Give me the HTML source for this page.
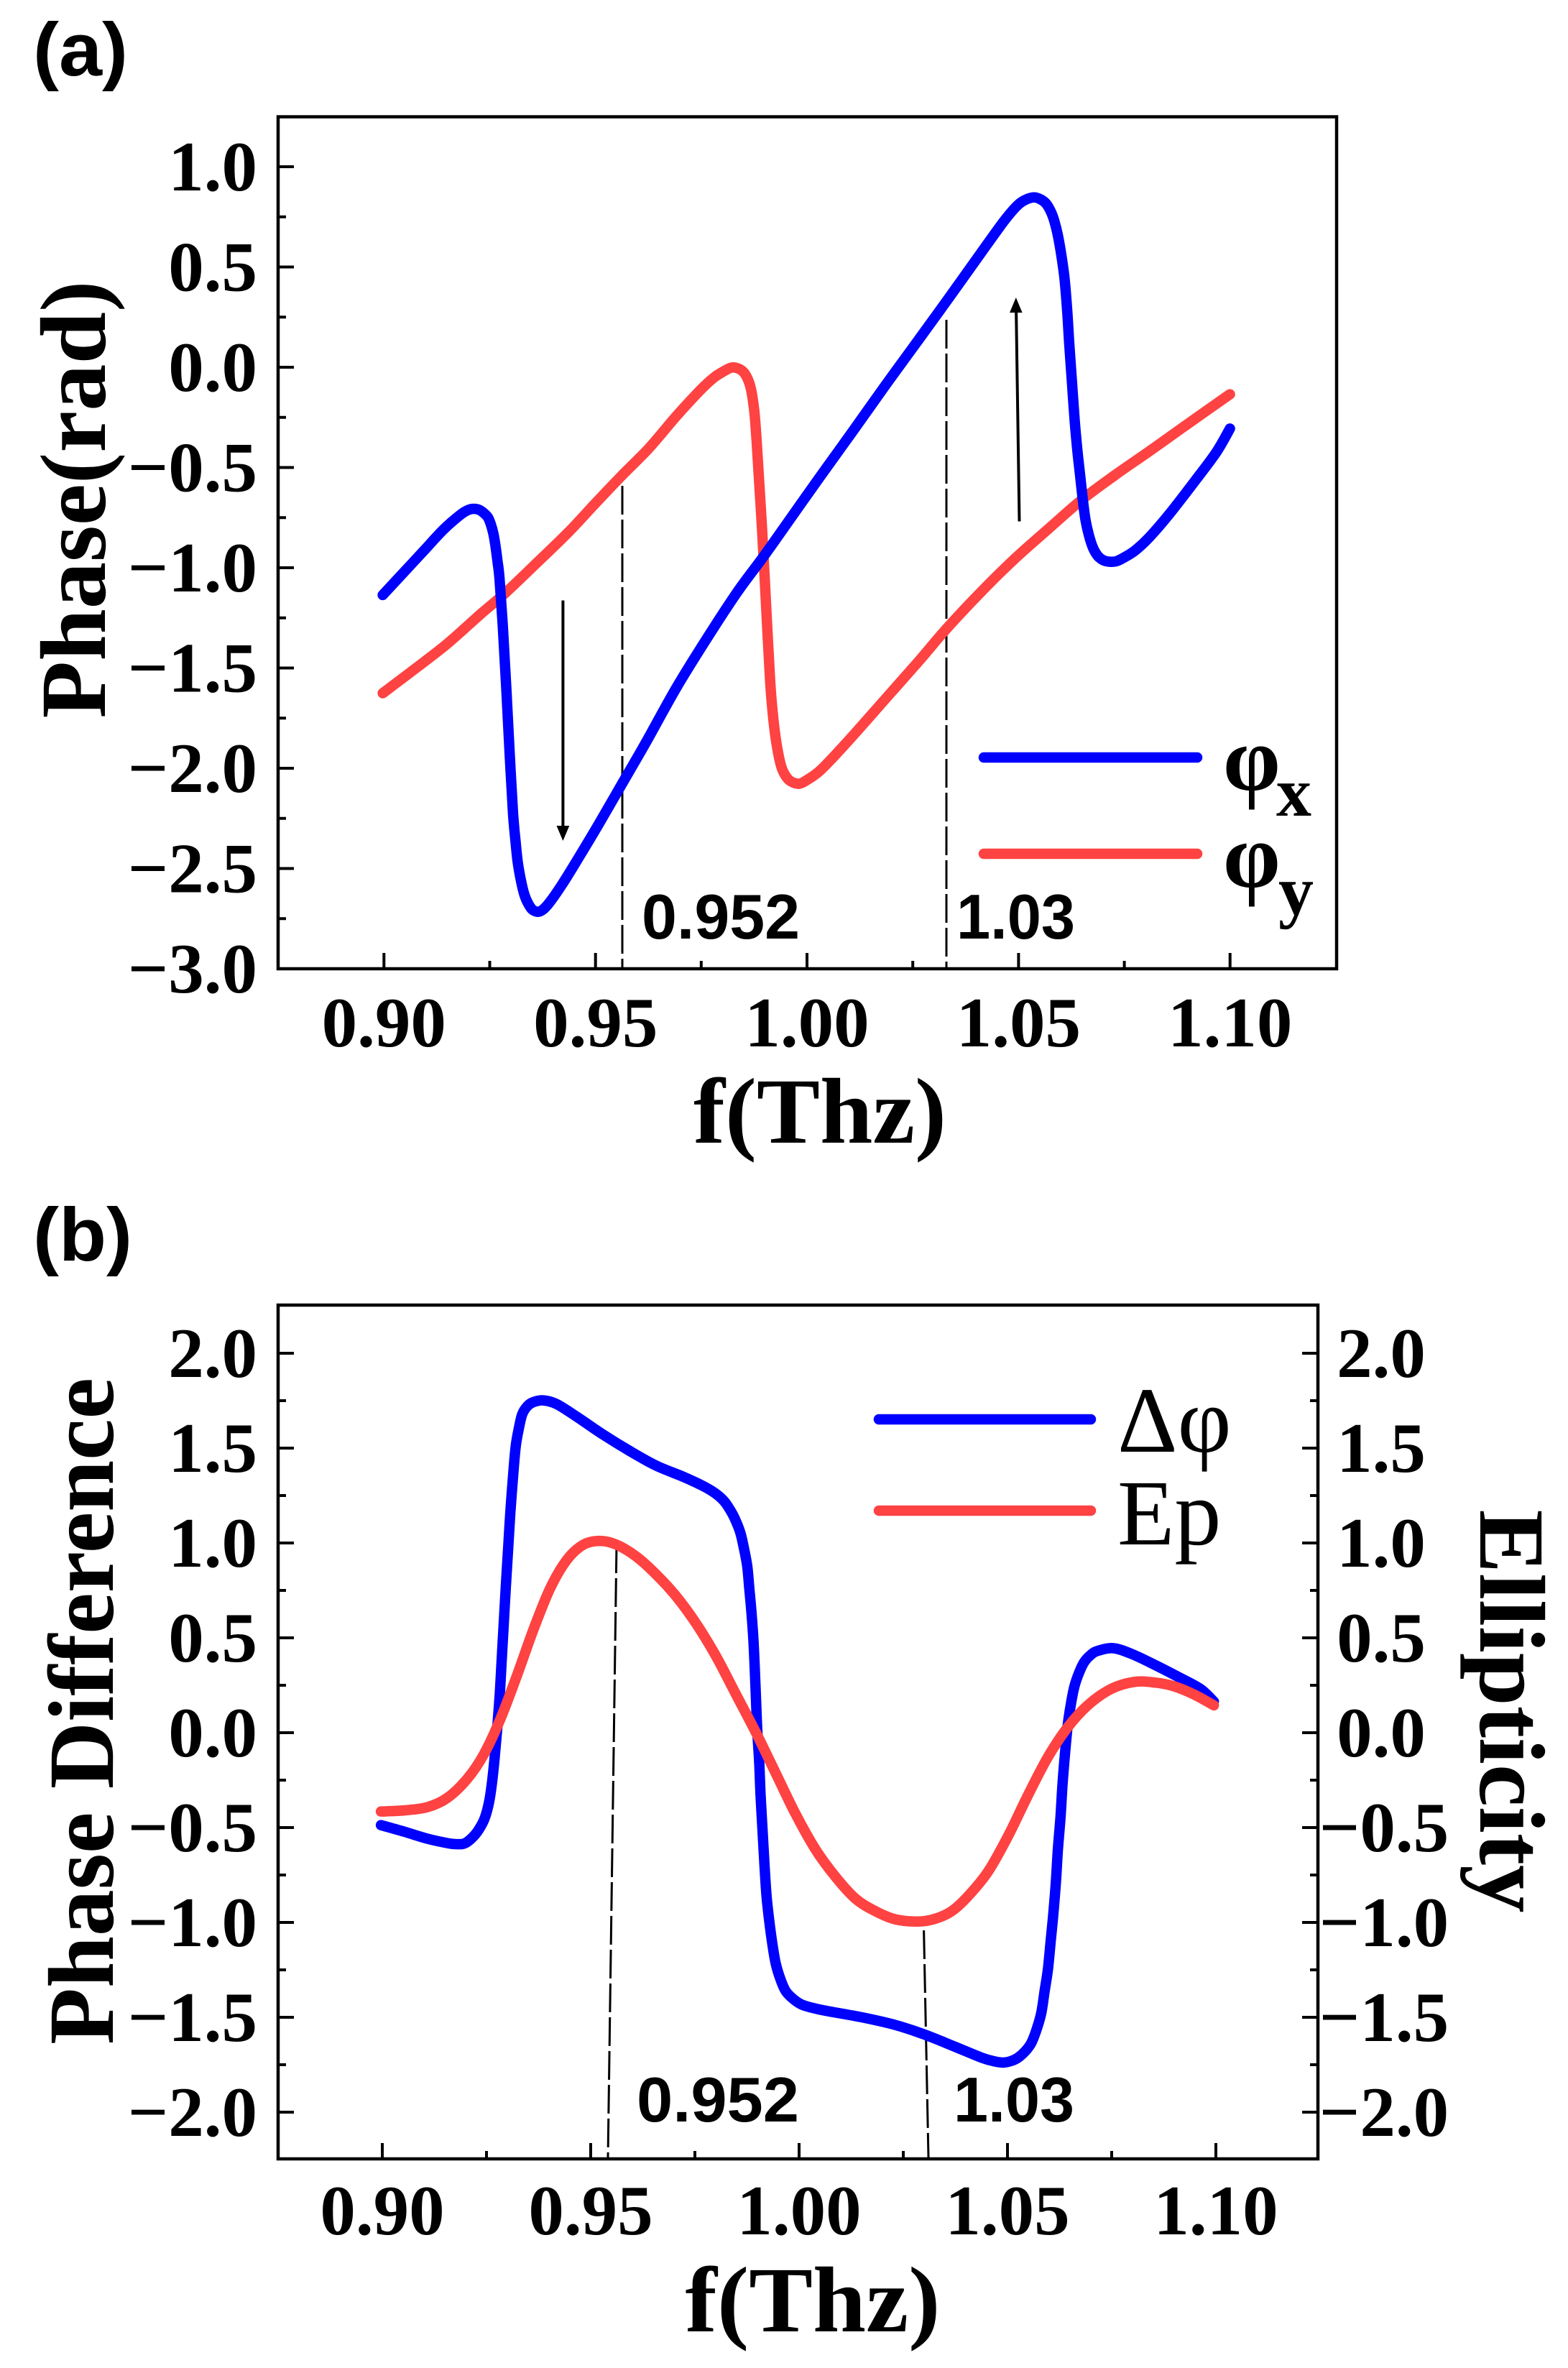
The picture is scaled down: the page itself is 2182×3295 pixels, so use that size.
<!DOCTYPE html>
<html>
<head>
<meta charset="utf-8">
<style>
html,body{margin:0;padding:0;background:#fff;}
svg{display:block;}
.tk{font-family:"Liberation Serif",serif;font-weight:bold;font-size:99px;fill:#000;}
.ttl{font-family:"Liberation Serif",serif;font-weight:bold;font-size:130px;fill:#000;}
.ann{font-family:"Liberation Sans",sans-serif;font-weight:bold;font-size:88px;fill:#000;}
.pl{font-family:"Liberation Sans",sans-serif;font-weight:bold;font-size:105px;fill:#000;}
.crv{fill:none;stroke-width:14.5;stroke-linejoin:round;stroke-linecap:round;}
.tks{fill:none;stroke:#000;stroke-width:4;}
.dsh{fill:none;stroke:#000;stroke-width:3;stroke-dasharray:40 7;}
</style>
</head>
<body>
<svg width="2182" height="3295" viewBox="0 0 2182 3295" xmlns="http://www.w3.org/2000/svg">
<rect x="0" y="0" width="2182" height="3295" fill="#fff"/>

<text class="pl" x="46" y="105" textLength="132" lengthAdjust="spacingAndGlyphs">(a)</text>
<rect x="387" y="162.5" width="1473" height="1185.5" fill="none" stroke="#000" stroke-width="4.5"/>
<path class="tks" d="M534.3 1348V1326M828.7 1348V1326M1123 1348V1326M1417.4 1348V1326M1711.7 1348V1326M681.5 1348V1337M975.8 1348V1337M1270.2 1348V1337M1564.6 1348V1337M387 232h22M387 371.5h22M387 511h22M387 650.5h22M387 790h22M387 929.5h22M387 1069h22M387 1208.5h22M387 301.75h11M387 441.25h11M387 580.75h11M387 720.25h11M387 859.75h11M387 999.25h11M387 1138.75h11M387 1278.25h11"/>

<g class="tk" text-anchor="end">
<text x="358" y="265">1.0</text>
<text x="358" y="404.5">0.5</text>
<text x="358" y="544">0.0</text>
<text x="358" y="683.5">−0.5</text>
<text x="358" y="823">−1.0</text>
<text x="358" y="962.5">−1.5</text>
<text x="358" y="1102">−2.0</text>
<text x="358" y="1241.5">−2.5</text>
<text x="358" y="1381">−3.0</text>
</g>
<g class="tk" text-anchor="middle">
<text x="534.3" y="1456">0.90</text>
<text x="828.7" y="1456">0.95</text>
<text x="1123" y="1456">1.00</text>
<text x="1417.4" y="1456">1.05</text>
<text x="1711.7" y="1456">1.10</text>
</g>

<text class="ttl" x="1141" y="1590" text-anchor="middle" textLength="352" lengthAdjust="spacingAndGlyphs">f(Thz)</text>
<text class="ttl" transform="translate(146,695) rotate(-90)" text-anchor="middle" textLength="609" lengthAdjust="spacingAndGlyphs">Phase(rad)</text>

<path class="dsh" d="M866 676V1346M1317 445V1346"/>

<g transform="matrix(0.9394 0 0 0.759 387 160)">
<path class="crv" vector-effect="non-scaling-stroke" stroke="#ff4242" d="M155,1060 L200,1018 250,970 300,915 335,878 380,825 430,765 470,712 510,660 550,610 590,552 625,505 645,482 660,470 672,463 682,465 690,472 696,485 700,500 703,520 706,550 709,600 712,660 716,740 720,830 725,950 729,1040 733,1100 738,1150 745,1193 752,1212 760,1222 772,1226 785,1218 800,1205 815,1187 850,1140 900,1070 950,1000 990,942 1040,876 1090,815 1140,760 1190,706 1240,660 1290,617 1340,573 1380,538 1410,512"/>
<path class="crv" vector-effect="non-scaling-stroke" stroke="#0000ff" d="M155,880 L185,840 215,800 245,760 270,733 282,724 290,722 298,724 305,730 311,738 315,750 319,768 322,790 325,818 328,850 333,940 338,1050 343,1170 348,1280 352,1335 355,1370 360,1405 365,1430 371,1447 378,1458 388,1460 400,1447 420,1412 445,1362 475,1300 510,1225 545,1150 590,1050 635,960 680,875 720,808 760,738 800,668 850,582 900,495 950,410 995,333 1040,255 1075,195 1095,166 1108,155 1120,151 1130,155 1138,163 1145,178 1150,195 1155,220 1160,255 1165,300 1169,360 1172,420 1176,490 1180,560 1184,615 1188,660 1192,705 1196,742 1201,770 1207,793 1214,808 1222,816 1232,819 1242,818 1255,810 1270,798 1290,775 1320,732 1360,668 1390,618 1410,575"/>
</g>

<path d="M783.4 835.5V1152M1418.5 725.5L1414.1 432" stroke="#000" stroke-width="4" fill="none"/>
<polygon points="783.4,1170 774.5,1149 792.3,1149" fill="#000"/>
<polygon points="1413.8,414 1405,435 1422.6,435" fill="#000"/>

<text class="ann" x="893" y="1306" textLength="220" lengthAdjust="spacingAndGlyphs">0.952</text>
<text class="ann" x="1331" y="1306" textLength="165" lengthAdjust="spacingAndGlyphs">1.03</text>

<path d="M1369 1054H1666" stroke="#0000ff" stroke-width="14.5" stroke-linecap="round"/>
<path d="M1369 1188H1666" stroke="#ff4242" stroke-width="14.5" stroke-linecap="round"/>
<text x="1702" y="1099" style="font-family:'Liberation Serif',serif;font-weight:bold;font-size:128px;">φ</text>
<text x="1776" y="1135" style="font-family:'Liberation Serif',serif;font-weight:bold;font-size:98px;">x</text>
<text x="1702" y="1234" style="font-family:'Liberation Serif',serif;font-weight:bold;font-size:128px;">φ</text>
<text x="1779" y="1272" style="font-family:'Liberation Serif',serif;font-weight:bold;font-size:98px;">y</text>

<text class="pl" x="46" y="1754" textLength="138" lengthAdjust="spacingAndGlyphs">(b)</text>
<rect x="387" y="1816" width="1447" height="1188" fill="none" stroke="#000" stroke-width="4.5"/>
<path class="tks" d="M532 3004V2982M822 3004V2982M1112 3004V2982M1402 3004V2982M1692 3004V2982M677 3004V2993M967 3004V2993M1257 3004V2993M1547 3004V2993M387 1883h22M387 2015h22M387 2147h22M387 2279h22M387 2411h22M387 2543h22M387 2675h22M387 2807h22M387 2939h22M387 1949h11M387 2081h11M387 2213h11M387 2345h11M387 2477h11M387 2609h11M387 2741h11M387 2873h11M1834 1883h-22M1834 2015h-22M1834 2147h-22M1834 2279h-22M1834 2411h-22M1834 2543h-22M1834 2675h-22M1834 2807h-22M1834 2939h-22M1834 1949h-11M1834 2081h-11M1834 2213h-11M1834 2345h-11M1834 2477h-11M1834 2609h-11M1834 2741h-11M1834 2873h-11"/>

<g class="tk" text-anchor="end">
<text x="358" y="1916">2.0</text>
<text x="358" y="2048">1.5</text>
<text x="358" y="2180">1.0</text>
<text x="358" y="2312">0.5</text>
<text x="358" y="2444">0.0</text>
<text x="358" y="2576">−0.5</text>
<text x="358" y="2708">−1.0</text>
<text x="358" y="2840">−1.5</text>
<text x="358" y="2972">−2.0</text>
</g>
<g class="tk" text-anchor="middle">
<text x="1922" y="1916">2.0</text>
<text x="1922" y="2048">1.5</text>
<text x="1922" y="2180">1.0</text>
<text x="1922" y="2312">0.5</text>
<text x="1922" y="2444">0.0</text>
<text x="1926" y="2576">−0.5</text>
<text x="1926" y="2708">−1.0</text>
<text x="1926" y="2840">−1.5</text>
<text x="1926" y="2972">−2.0</text>
<text x="532" y="3109">0.90</text>
<text x="822" y="3109">0.95</text>
<text x="1112" y="3109">1.00</text>
<text x="1402" y="3109">1.05</text>
<text x="1692" y="3109">1.10</text>
</g>

<text class="ttl" x="1131" y="3244" text-anchor="middle" textLength="355" lengthAdjust="spacingAndGlyphs">f(Thz)</text>
<text class="ttl" transform="translate(157,2381) rotate(-90)" text-anchor="middle" textLength="928" lengthAdjust="spacingAndGlyphs">Phase Difference</text>
<text class="ttl" transform="translate(2060,2381) rotate(90)" text-anchor="middle" textLength="561" lengthAdjust="spacingAndGlyphs">Ellipticity</text>

<path class="dsh" d="M858 2149L846 3002M1285.6 2686L1292 3002"/>

<g transform="matrix(0.9235 0 0 0.7577 387 1816)">
<path class="crv" vector-effect="non-scaling-stroke" stroke="#0000ff" d="M155,955 L190,967 225,980 255,988 270,990 282,988 295,975 305,958 312,940 318,912 322,880 326,835 330,780 334,715 337,650 340,585 343,520 347,440 350,380 354,315 358,260 363,225 368,200 376,185 385,178 400,175 420,182 450,205 490,238 530,268 570,295 610,315 640,332 658,345 672,360 683,380 691,400 697,420 702,447 707,480 710,520 713,560 716,610 718,660 720,720 722,780 725,840 727,900 730,965 733,1030 736,1085 740,1130 745,1175 750,1210 757,1238 765,1260 777,1275 790,1285 810,1292 830,1297 880,1308 930,1322 975,1340 1020,1362 1060,1382 1080,1389 1093,1391 1105,1388 1115,1382 1126,1370 1135,1355 1143,1330 1150,1300 1155,1260 1160,1220 1164,1170 1168,1120 1172,1060 1175,1000 1179,940 1182,880 1186,820 1190,770 1195,730 1200,700 1207,675 1215,655 1225,642 1235,635 1258,630 1285,640 1320,660 1360,685 1390,705 1410,728"/>
<path class="crv" vector-effect="non-scaling-stroke" stroke="#ff4242" d="M155,930 L190,928 225,922 255,905 285,870 310,825 335,760 360,680 385,595 410,520 435,468 460,440 485,433 510,440 540,462 570,495 600,535 630,585 660,645 690,715 720,785 750,860 780,935 810,1000 840,1050 870,1090 900,1113 930,1128 965,1132 990,1127 1015,1113 1040,1085 1070,1040 1100,975 1130,900 1160,830 1190,775 1220,735 1255,705 1290,692 1320,693 1350,700 1380,715 1410,735"/>
</g>

<text class="ann" x="886" y="2952" textLength="226" lengthAdjust="spacingAndGlyphs">0.952</text>
<text class="ann" x="1327" y="2952" textLength="168" lengthAdjust="spacingAndGlyphs">1.03</text>

<path d="M1223 1975H1518" stroke="#0000ff" stroke-width="14.5" stroke-linecap="round"/>
<path d="M1223 2102H1518" stroke="#ff4242" stroke-width="14.5" stroke-linecap="round"/>
<text x="1555" y="2020" style="font-family:'Liberation Serif',serif;font-size:130px;">Δφ</text>
<text x="1555" y="2149" style="font-family:'Liberation Serif',serif;font-size:130px;">Ep</text>
</svg>
<script>
(function(){
  var ps=document.querySelectorAll('path.crv');
  for(var k=0;k<ps.length;k++){
    var p=ps[k];
    var n=p.getAttribute('d').match(/-?\d+(\.\d+)?/g).map(Number);
    var pts=[];
    for(var i=0;i+1<n.length;i+=2)pts.push([n[i],n[i+1]]);
    var d='M'+pts[0][0]+','+pts[0][1];
    for(i=0;i<pts.length-1;i++){
      var p0=pts[i-1]||pts[i],p1=pts[i],p2=pts[i+1],p3=pts[i+2]||pts[i+1];
      var c1x=p1[0]+(p2[0]-p0[0])/6,c1y=p1[1]+(p2[1]-p0[1])/6;
      var c2x=p2[0]-(p3[0]-p1[0])/6,c2y=p2[1]-(p3[1]-p1[1])/6;
      d+=' C'+c1x.toFixed(2)+','+c1y.toFixed(2)+' '+c2x.toFixed(2)+','+c2y.toFixed(2)+' '+p2[0]+','+p2[1];
    }
    p.setAttribute('d',d);
  }
})();
</script>
</body>
</html>
